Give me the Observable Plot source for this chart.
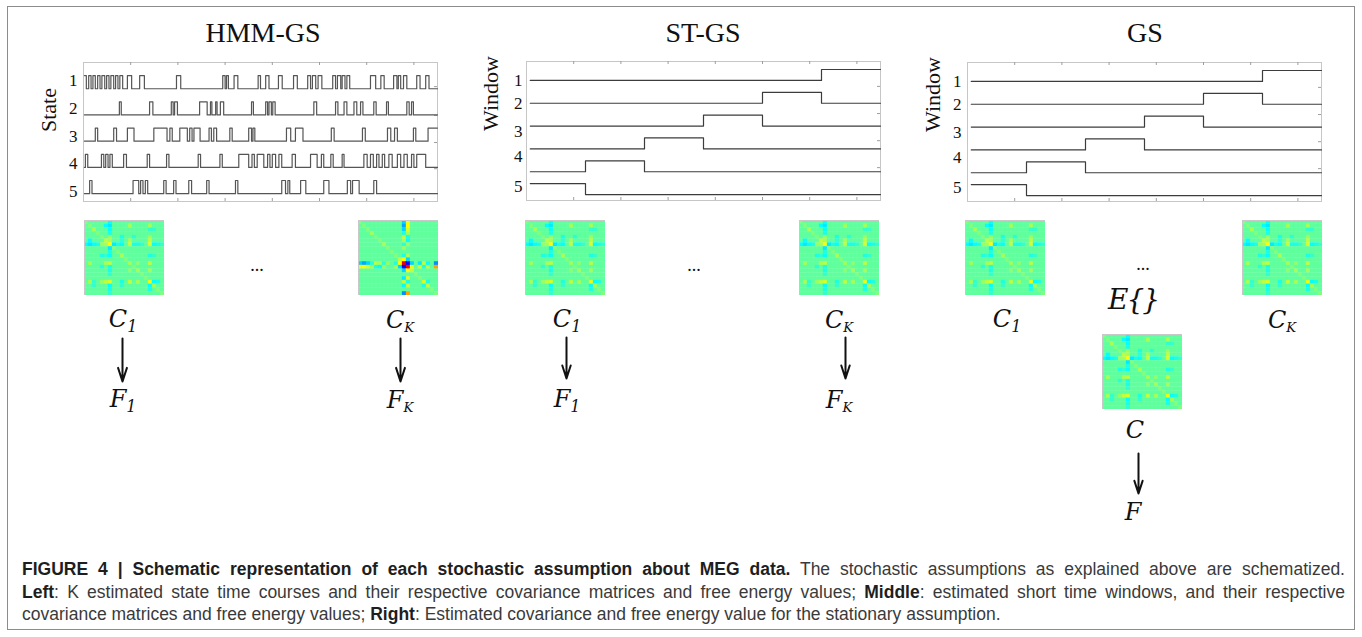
<!DOCTYPE html>
<html>
<head>
<meta charset="utf-8">
<script src="https://cdn.jsdelivr.net/npm/d3@7"></script>
<script src="https://cdn.jsdelivr.net/npm/@observablehq/plot@0.6"></script>
<style>
  body { margin: 0; background: #fff; }
  #fig { position: relative; width: 1362px; height: 637px; overflow: hidden; background: #fff; }
  .abs { position: absolute; }
  .border { position: absolute; left: 7px; top: 6px; width: 1348px; height: 624px; border: 1.5px solid #8c8c8c; box-sizing: border-box; }
  .title { position: absolute; transform: translate(-50%, -50%); font-family: "Liberation Serif", serif; font-size: 28px; color: #111; white-space: nowrap; }
  .math { position: absolute; transform: translate(-50%, -50%); font-family: "DejaVu Serif", serif; font-style: italic; color: #111; white-space: nowrap; line-height: 1; }
  .math sub { font-size: 0.66em; vertical-align: -0.28em; }
  .math sub.k { font-size: 0.55em; vertical-align: -0.3em; }
  .math.e { letter-spacing: -2px; }
  .dots { position: absolute; transform: translate(-50%, -50%); font-family: "Liberation Serif", serif; font-size: 18px; color: #111; }
  .caption { position: absolute; left: 22px; top: 558px; width: 1323px; font-family: "Liberation Sans", Arial, sans-serif; font-size: 17.5px; line-height: 22.5px; color: #3a3a3a; }
  .caption div { white-space: nowrap; }
  .caption .j { text-align: justify; text-align-last: justify; white-space: normal; }
  .caption b { color: #1e1e1e; }
</style>
</head>
<body>
<div id="fig"></div>
<script>
// ---------------- DATA ----------------
const timeTicks = [100, 200, 300, 400, 500, 600, 700];   // samples (x ticks, unlabeled)
const timeDomain = [0, 750];

// HMM-GS: on-periods (start, end in samples) of each state
const state1Pulses = [[2,6],[11,16],[20,25],[30,35],[39,45],[49,54],[58,64],[68,73],[77,83],[93,102],[119,129],[197,206],[295,300],[303,307],[319,327],[370,375],[386,393],[413,421],[445,453],[475,481],[485,492],[497,505],[528,534],[538,545],[548,554],[558,564],[608,619],[630,637],[657,664],[667,672],[678,685],[706,713],[725,732]];
const state2Pulses = [[76,80],[140,147],[186,190],[193,199],[246,262],[269,272],[280,283],[290,297],[356,360],[386,390],[393,398],[401,406],[488,494],[534,539],[552,558],[573,579],[587,592],[615,620],[642,646],[685,690],[695,699]];
const state3Pulses = [[25,30],[64,70],[93,107],[149,177],[183,188],[204,220],[225,230],[234,247],[266,271],[276,282],[310,315],[350,356],[359,363],[430,439],[449,465],[525,531],[591,597],[644,651],[659,665],[699,704],[730,750]];
const state4Pulses = [[4,9],[38,43],[47,52],[56,61],[85,91],[135,140],[176,181],[243,248],[289,294],[329,350],[357,362],[368,382],[390,395],[400,407],[414,420],[442,449],[481,495],[504,509],[524,529],[548,552],[594,601],[608,614],[621,626],[633,638],[647,654],[665,672],[679,686],[695,700],[706,725]];
const state5Pulses = [[13,18],[105,117],[121,126],[131,136],[170,175],[191,196],[223,229],[261,266],[322,327],[420,428],[433,437],[460,471],[509,520],[559,566],[570,584],[615,621]];
const hmmStateLabels = ["1", "2", "3", "4", "5"];

// ST-GS / GS: consecutive short windows (sample edges); trace 1 (top) .. trace 6 (bottom)
const windowEdges = [8, 125, 250, 375, 500, 625, 750];
const windowLabels = ["1", "2", "3", "4", "5"];

// covariance matrices: [row, col, value] (symmetric; unspecified cells = 0)
const matrixSize = 20;
const typicalCovCells = [
  [6,6,0.35],[16,16,0.3],[5,5,0.2],[11,11,0.15],[2,2,0.15],[13,13,0.15],[17,17,0.15],[9,9,0.15],
  [6,0,-0.2],[6,1,-0.25],[6,2,-0.2],[6,3,-0.15],[6,7,-0.25],[6,8,-0.15],[6,9,-0.2],[6,12,-0.15],[6,13,-0.15],[6,14,-0.1],[6,17,-0.2],[6,18,-0.15],[6,19,-0.1],
  [6,5,0.15],[6,11,0.2],[6,16,0.25],[6,4,0.12],
  [5,1,-0.2],[5,11,0.15],[5,16,0.2],[5,9,-0.1],
  [16,17,-0.2],[16,11,0.2],[16,13,0.15],[16,1,0.15],[16,4,0.12],[16,9,-0.15],[16,2,-0.1],[16,18,-0.15],
  [11,1,0.15],[11,13,0.1],[4,9,-0.15],[4,12,-0.12],[17,2,-0.1],[17,9,-0.1]
];
const stateKCovCells = [
  [11,11,0.95],[12,12,0.9],[11,12,-0.75],
  [11,0,-0.3],[11,1,-0.4],[11,2,-0.3],[11,4,0.2],[11,5,0.15],[11,7,0.12],[11,9,-0.15],[11,15,-0.25],[11,16,0.2],[11,17,-0.2],[11,19,-0.45],
  [12,0,0.3],[12,1,0.35],[12,2,0.25],[12,4,-0.15],[12,5,-0.2],[12,9,0.15],[12,15,0.25],[12,16,-0.15],[12,17,0.2],[12,19,0.55],
  [10,10,0.2],[10,11,0.35],[10,12,-0.3],[13,11,-0.3],[13,12,0.3],[13,13,0.2],
  [16,16,0.25],[17,17,0.2],[16,17,-0.15],[3,3,0.15],[3,11,-0.15],[3,12,0.15],[6,6,0.15],[6,11,-0.12],[6,12,0.12]
];
const diagonalValue = 0.07;

// ---------------- LAYOUT / STYLE ----------------
const fig = document.getElementById("fig");
const FW = 354, FH = 139;
const ML = 62, MT = 4, MR = 4, MB = 4;
const serif = "Liberation Serif";

function place(node, left, top) {
  const wrap = document.createElement("div");
  wrap.className = "abs";
  wrap.style.left = left + "px";
  wrap.style.top = top + "px";
  wrap.append(node);
  fig.append(wrap);
  return wrap;
}
function addDiv(cls, html, x, y, size) {
  const d = document.createElement("div");
  d.className = cls;
  d.style.left = x + "px";
  d.style.top = y + "px";
  if (size) d.style.fontSize = size + "px";
  d.innerHTML = html;
  fig.append(d);
}

// build step trace points from pulses
function traceFromPulses(pulses, level, amp, start, end, name) {
  const pts = [];
  const hi = level - amp;
  if (!(pulses.length && pulses[0][0] <= start)) pts.push({t: start, y: level, trace: name});
  for (const [s, e] of pulses) {
    if (s <= start) pts.push({t: start, y: hi, trace: name});
    else pts.push({t: s, y: level, trace: name}, {t: s, y: hi, trace: name});
    pts.push({t: e, y: hi, trace: name});
    if (e < end) pts.push({t: e, y: level, trace: name});
  }
  const last = pts[pts.length - 1];
  if (last.t < end) pts.push({t: end, y: level, trace: name});
  return pts;
}

function stepPanel({points, yDomain, labels, labelPos, rightTicks, axisLabel, axisDx, labelDx, stroke}) {
  return Plot.plot({
    width: ML + FW + MR, height: MT + FH + MB,
    marginLeft: ML, marginTop: MT, marginRight: MR, marginBottom: MB,
    style: {background: "transparent", overflow: "visible", maxWidth: "none"},
    x: {domain: timeDomain, axis: null},
    y: {domain: yDomain, reverse: true, axis: null},
    marks: [
      Plot.frame({stroke: "#c6c6c6"}),
      Plot.ruleX(timeTicks, {stroke: "#9e9e9e", insetBottom: FH - 3}),
      Plot.ruleX(timeTicks, {stroke: "#9e9e9e", insetTop: FH - 3}),
      Plot.ruleY(rightTicks, {stroke: "#9e9e9e", insetLeft: FW - 3}),
      Plot.line(points, {x: "t", y: "y", z: "trace", stroke, strokeWidth: 1.2}),
      Plot.text(labels, {frameAnchor: "left", y: (d, i) => labelPos[i], text: d => d, textAnchor: "end", dx: labelDx, fontSize: 17, fontFamily: serif, fill: "#111"}),
      Plot.text([axisLabel], {frameAnchor: "left", rotate: -90, dx: axisDx, text: d => d, fontSize: 22, fontFamily: serif, fill: "#111"})
    ]
  });
}

// HMM panel
const hmmPulses = [state1Pulses, state2Pulses, state3Pulses, state4Pulses, state5Pulses];
const hmmPoints = hmmPulses.flatMap((p, i) => traceFromPulses(p, i + 1, 0.5, 2, 750, "s" + (i + 1)));
place(stepPanel({
  points: hmmPoints, yDomain: [0, 5.3],
  labels: hmmStateLabels, labelPos: [0.7, 1.755, 2.81, 3.865, 4.92],
  rightTicks: [0.92, 2.02, 3.05, 4.05],
  axisLabel: "State", axisDx: -35, labelDx: -6, stroke: "#555"
}), 83 - ML, 62 - MT);

// Window panels
const windowPoints = d3.range(1, 7).flatMap(k => {
  const w = 6 - k;
  return traceFromPulses([[windowEdges[w], windowEdges[w + 1]]], k, 0.48, windowEdges[0], 750, "w" + k);
});
const winOpts = {
  points: windowPoints, yDomain: [0.17, 6.26],
  labels: windowLabels, labelPos: [1, 2.0, 3.25, 4.35, 5.66],
  rightTicks: [1.26, 2.45, 3.64, 4.82],
  axisLabel: "Window", stroke: "#3c3c3c"
};
place(stepPanel({...winOpts, axisDx: -36, labelDx: -4}), 526 - ML, 61 - MT);
place(stepPanel({...winOpts, axisDx: -35, labelDx: -6}), 967 - ML, 62 - MT);

// titles
addDiv("title", "HMM-GS", 263, 33);
addDiv("title", "ST-GS", 703, 33);
addDiv("title", "GS", 1145, 33);

// matrices
function jet(t) {
  const c = v => Math.max(0, Math.min(1, v));
  const r = c(1.5 - Math.abs(4 * t - 3)), g = c(1.5 - Math.abs(4 * t - 2)), b = c(1.5 - Math.abs(4 * t - 1));
  return d3.rgb(r * 255, g * 255, b * 255).toString();
}
function buildCells(features) {
  const m = d3.range(matrixSize).map(i => d3.range(matrixSize).map(j => (i === j ? diagonalValue : 0)));
  for (const [i, j, v] of features) { m[i][j] = v; m[j][i] = v; }
  return m.flatMap((row, i) => row.map((v, j) => ({i, j, v})));
}
function matrixPlot(features) {
  const svg = Plot.plot({
    width: 80, height: 75, margin: 0,
    style: {background: "transparent", maxWidth: "none"},
    x: {type: "band", domain: d3.range(matrixSize), padding: 0, round: false, axis: null},
    y: {type: "band", domain: d3.range(matrixSize), padding: 0, round: false, axis: null},
    color: {type: "linear", domain: [-1.044, 1.178], interpolate: jet},
    marks: [
      Plot.cell(buildCells(features), {x: "j", y: "i", fill: "v", stroke: "v", strokeWidth: 0.3, inset: 0}),
      Plot.frame({stroke: "#c8c8c8"})
    ]
  });
  svg.style.filter = "blur(0.7px)";
  return svg;
}
place(matrixPlot(typicalCovCells), 84, 220);
place(matrixPlot(stateKCovCells), 358, 220);
place(matrixPlot(typicalCovCells), 525, 220);
place(matrixPlot(typicalCovCells), 799, 220);
place(matrixPlot(typicalCovCells), 965, 220);
place(matrixPlot(typicalCovCells), 1242, 220);
place(matrixPlot(typicalCovCells), 1102, 334);

// arrows (C -> F)
function arrowPlot(h) {
  return Plot.plot({
    width: 20, height: h, margin: 0,
    style: {background: "transparent", overflow: "visible", maxWidth: "none"},
    x: {type: "point", domain: ["arrow"], axis: null},
    y: {type: "point", domain: ["C", "F"], padding: 0, axis: null},
    marks: [Plot.arrow([{x: "arrow", from: "C", to: "F"}], {x1: "x", x2: "x", y1: "from", y2: "to", stroke: "#111", strokeWidth: 2, headLength: 11, headAngle: 36})]
  });
}
place(arrowPlot(43), 122 - 10, 338);
place(arrowPlot(43), 400 - 10, 338);
place(arrowPlot(41), 566 - 10, 337);
place(arrowPlot(41), 845 - 10, 337);
place(arrowPlot(40), 1138 - 10, 453);

// math labels
addDiv("math", "C<sub>1</sub>", 123, 321, 24);
addDiv("math", "F<sub>1</sub>", 123, 401, 24);
addDiv("math", "C<sub class='k'>K</sub>", 400, 321, 24);
addDiv("math", "F<sub class='k'>K</sub>", 400, 401, 24);
addDiv("math", "C<sub>1</sub>", 567, 321, 24);
addDiv("math", "F<sub>1</sub>", 567, 401, 24);
addDiv("math", "C<sub class='k'>K</sub>", 839, 321, 24);
addDiv("math", "F<sub class='k'>K</sub>", 839, 401, 24);
addDiv("math", "C<sub>1</sub>", 1007, 321, 24);
addDiv("math", "C<sub class='k'>K</sub>", 1282, 321, 24);
addDiv("math e", "E{}", 1133, 300, 28);
addDiv("math", "C", 1135, 430, 24);
addDiv("math", "F", 1133, 512, 24);
addDiv("dots", "...", 257, 265);
addDiv("dots", "...", 694, 265);
addDiv("dots", "...", 1143, 264);

// border and caption
const border = document.createElement("div");
border.className = "border";
fig.append(border);
const cap = document.createElement("div");
cap.className = "caption";
cap.innerHTML =
  "<div class='j'><b>FIGURE 4 | Schematic representation of each stochastic assumption about MEG data.</b> The stochastic assumptions as explained above are schematized.</div>" +
  "<div class='j'><b>Left</b>: K estimated state time courses and their respective covariance matrices and free energy values; <b>Middle</b>: estimated short time windows, and their respective</div>" +
  "<div>covariance matrices and free energy values; <b>Right</b>: Estimated covariance and free energy value for the stationary assumption.</div>";
fig.append(cap);
</script>
</body>
</html>
